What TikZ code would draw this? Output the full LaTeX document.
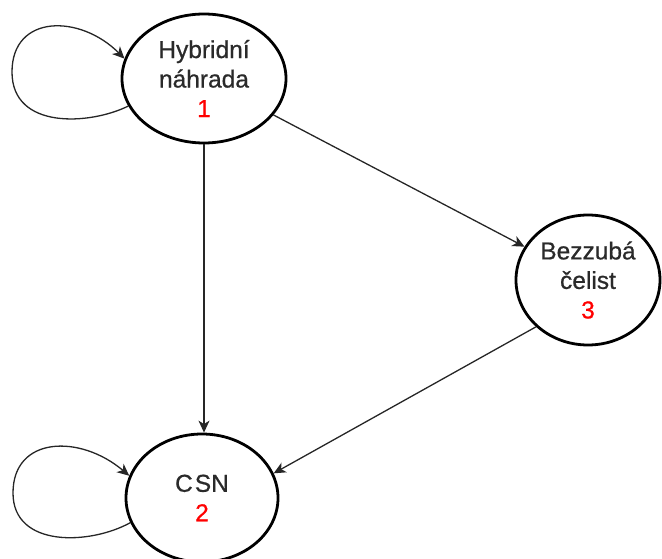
\documentclass[tikz,border=0pt]{standalone}
\usepackage{fontspec}
\setmainfont{Liberation Sans}
\newfontfamily\nodefont[FakeBold=0.7]{Liberation Sans}
\usetikzlibrary{shapes.geometric,arrows.meta}
\definecolor{txtgrey}{HTML}{2A2A2A}
\definecolor{numred}{HTML}{FF0000}
\tikzset{
  state/.style={ellipse, draw=black, line width=2.8pt, inner sep=0pt, align=center,
    text=txtgrey, font=\nodefont\fontsize{24.5}{29.5}\selectfont},
  arr/.style={draw=black!85, line width=1.3pt,
    -{Stealth[length=12pt,width=11pt,inset=3.5pt]}},
  num/.style={text=numred}
}
\begin{document}
\begin{tikzpicture}[x=1pt,y=-1pt]
\useasboundingbox (0,0) rectangle (662,559);
\node[state, minimum width=164pt, minimum height=129pt] (n1) at (204,78.5)
  {Hybridní\\náhrada\\{\color{numred}1}};
\node[state, minimum width=144pt, minimum height=130pt] (n3) at (588,280)
  {Bezzubá\\čelist\\{\color{numred}3}};
\node[state, minimum width=152pt, minimum height=128pt] (n2) at (202,498)
  {C\kern2pt SN\\{\color{numred}2}};
% connectors
\draw[arr] (n1.south) -- (n1.south |- n2.north);
\draw[arr] (n1) -- (n3);
\draw[arr] (n3.222) -- (n2.19);
% self loops
\draw[arr] (n1.200) .. controls (90,125) and (12,130) .. (12,72)
  .. controls (12,14) and (80,14) .. (n1.166);
\draw[arr] (n2.199) .. controls (90,545) and (13,548) .. (13,493)
  .. controls (13,436) and (80,434) .. (n2.163);
\end{tikzpicture}
\end{document}
